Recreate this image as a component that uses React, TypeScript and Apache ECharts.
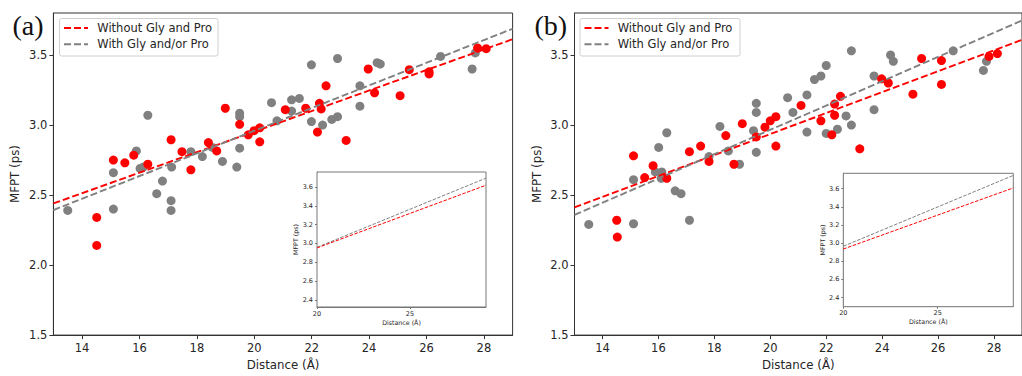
import React, { useEffect, useRef } from "react";
import * as echarts from "echarts";

// ---- data (x = Distance Å, y = MFPT ps) ----
const redA: number[][] = [
  [14.51, 2.34], [14.51, 2.14], [15.09, 2.75], [15.49, 2.73], [15.8, 2.785], [16.29, 2.72],
  [17.1, 2.895], [17.48, 2.81], [17.79, 2.68], [18.4, 2.875], [18.69, 2.815], [18.99, 3.12],
  [19.49, 3.005], [19.79, 2.93], [19.99, 2.96], [20.19, 2.98], [20.19, 2.88], [21.08, 3.11],
  [21.79, 3.12], [22.2, 2.95], [22.27, 3.155], [22.33, 3.115], [22.5, 3.28], [23.2, 2.89],
  [23.97, 3.4], [24.19, 3.23], [25.08, 3.21], [25.4, 3.395], [26.09, 3.38], [26.09, 3.365],
  [27.78, 3.55], [28.08, 3.545],
];
const grayA: number[][] = [
  [13.5, 2.39], [15.09, 2.66], [15.09, 2.4], [15.89, 2.815], [16.02, 2.69], [16.13, 2.7],
  [16.29, 3.07], [16.6, 2.51], [16.8, 2.6], [17.12, 2.7], [17.1, 2.46], [17.1, 2.39],
  [17.79, 2.81], [18.19, 2.775], [18.54, 2.84], [18.89, 2.74], [19.39, 2.7], [19.49, 3.085],
  [19.49, 3.06], [19.49, 2.835], [20.6, 3.16], [20.79, 3.03], [21.3, 3.18], [21.3, 3.1],
  [21.57, 3.19], [21.99, 3.43], [21.99, 3.025], [22.38, 3.0], [22.7, 3.04], [22.9, 3.06],
  [22.9, 3.475], [23.68, 3.28], [23.68, 3.135], [24.28, 3.445], [24.39, 3.435], [26.49, 3.49],
  [27.59, 3.4], [27.7, 3.515],
];
const redB: number[][] = [
  [14.51, 2.32], [14.53, 2.2], [15.11, 2.78], [15.51, 2.625], [15.81, 2.71], [16.3, 2.62],
  [17.11, 2.81], [17.51, 2.85], [17.81, 2.74], [18.41, 2.925], [18.7, 2.72], [19.0, 3.01],
  [19.5, 2.915], [19.81, 2.985], [20.0, 3.03], [20.2, 3.06], [20.2, 2.85], [21.1, 3.14],
  [21.81, 3.03], [22.2, 2.93], [22.3, 3.15], [22.3, 3.07], [22.51, 3.205], [23.2, 2.83],
  [23.98, 3.33], [24.22, 3.3], [25.1, 3.22], [25.41, 3.475], [26.12, 3.46], [26.12, 3.29],
  [27.82, 3.49], [28.12, 3.51],
];
const grayB: number[][] = [
  [13.51, 2.29], [15.11, 2.295], [15.11, 2.61], [16.01, 2.84], [15.89, 2.665], [16.12, 2.665],
  [16.1, 2.62], [16.3, 2.945], [16.6, 2.53], [16.81, 2.51], [17.11, 2.32], [17.81, 2.775],
  [18.2, 2.99], [18.5, 2.815], [18.9, 2.72], [19.4, 2.96], [19.5, 3.155], [19.5, 3.09],
  [19.5, 2.805], [20.62, 3.195], [20.81, 3.09], [21.31, 3.215], [21.31, 2.95], [21.58, 3.325],
  [21.81, 3.35], [22.0, 3.425], [22.0, 2.94], [22.4, 2.97], [22.71, 3.065], [22.9, 3.0],
  [22.9, 3.53], [23.71, 3.35], [23.71, 3.11], [24.3, 3.5], [24.4, 3.455], [26.54, 3.53],
  [27.62, 3.39], [27.73, 3.455],
];
// linear fits: [value at x = 13, slope]
const fitRedA = [2.44, 0.0733];
const fitGrayA = [2.393, 0.0809];
const fitRedB = [2.412, 0.0748];
const fitGrayB = [2.358, 0.0868];

const mainXTicks = [14, 16, 18, 20, 22, 24, 26, 28];
const mainYTicks = [1.5, 2.0, 2.5, 3.0, 3.5];
const insetXTicks = [20, 25];
const insetYTicks = [2.4, 2.6, 2.8, 3.0, 3.2, 3.4, 3.6];
const legendLabels = ["Without Gly and Pro", "With Gly and/or Pro"];
const panelLabels = ["(a)", "(b)"];

const RED = "#ff0000";
const GRAY = "#808080";
const FONT = "DejaVu Sans";
const TXT = "#262626";

function fitLine(fit: number[], x0: number, x1: number) {
  return [x0, x1].map((x) => [x, fit[0] + fit[1] * (x - 13)]);
}

function xAxis(gi: number, min: number, max: number, ticks: number[], inset: boolean) {
  return {
    type: "value", gridIndex: gi, min, max,
    name: "Distance (Å)", nameLocation: "middle", nameGap: inset ? 12 : 23,
    nameTextStyle: { fontFamily: FONT, fontSize: inset ? 6.3 : 11.8, color: TXT },
    axisLine: { show: true, onZero: false, lineStyle: { color: inset ? "#777" : "#333", width: 1 } },
    axisTick: { show: true, length: inset ? 2 : 4, customValues: ticks, lineStyle: { color: inset ? "#777" : "#333" } },
    axisLabel: { customValues: ticks, margin: inset ? 3 : 7, fontFamily: FONT, fontSize: inset ? 6.5 : 11.5, color: TXT },
    splitLine: { show: false },
  };
}
function yAxis(gi: number, min: number, max: number, ticks: number[], inset: boolean) {
  return {
    type: "value", gridIndex: gi, min, max,
    name: "MFPT (ps)", nameLocation: "middle", nameGap: inset ? 16 : 32,
    nameTextStyle: { fontFamily: FONT, fontSize: inset ? 6.3 : 11.8, color: TXT },
    axisLine: { show: true, onZero: false, lineStyle: { color: inset ? "#777" : "#333", width: 1 } },
    axisTick: { show: true, length: inset ? 2 : 4, customValues: ticks, lineStyle: { color: inset ? "#777" : "#333" } },
    axisLabel: {
      customValues: ticks, margin: inset ? 4 : 6, fontFamily: FONT, fontSize: inset ? 6.5 : 11.5, color: TXT,
      formatter: (v: number) => v.toFixed(1),
    },
    splitLine: { show: false },
  };
}

export default function App() {
  const ref = useRef<HTMLDivElement>(null);
  useEffect(() => {
    document.body.style.margin = "0";
    if (!ref.current) return;
    const chart = echarts.init(ref.current, null, { renderer: "svg" });

    const grids = [
      { left: 53.4, top: 13, width: 459.2, height: 325 },
      { left: 317, top: 172, width: 169, height: 135 },
      { left: 574.5, top: 13, width: 458.4, height: 325 },
      { left: 843.3, top: 173.3, width: 170, height: 133.4 },
    ].map((g, i) => ({
      ...g, show: true, backgroundColor: "#fff",
      borderColor: i % 2 ? "#777" : "#333", borderWidth: 1, z: i % 2 ? 3 : 0,
    }));

    const ranges = [
      { x: [13, 29], y: [1.5, 3.8], inset: false },
      { x: [20, 29.09], y: [2.325, 3.76], inset: true },
      { x: [13, 29], y: [1.5, 3.8], inset: false },
      { x: [20, 29.0], y: [2.3, 3.77], inset: true },
    ];
    const xAxes = ranges.map((r, i) => xAxis(i, r.x[0], r.x[1], r.inset ? insetXTicks : mainXTicks, r.inset));
    const yAxes = ranges.map((r, i) => yAxis(i, r.y[0], r.y[1], r.inset ? insetYTicks : mainYTicks, r.inset));

    const scatter = (data: number[][], color: string, gi: number) => ({
      type: "scatter", xAxisIndex: gi, yAxisIndex: gi, data, symbol: "circle", symbolSize: 9,
      itemStyle: { color, opacity: 1 }, z: 2,
    });
    const line = (fit: number[], color: string, gi: number, inset: boolean) => ({
      type: "line", xAxisIndex: gi, yAxisIndex: gi, data: fitLine(fit, ranges[gi].x[0], ranges[gi].x[1]),
      symbol: "none", clip: true, z: inset ? 6 : 4,
      lineStyle: { color, width: inset ? 1 : 1.9, type: inset ? [3.5, 1.5] : [7, 3] },
    });

    const series = [
      scatter(grayA, GRAY, 0), scatter(redA, RED, 0),
      line(fitRedA, RED, 0, false), line(fitGrayA, GRAY, 0, false),
      line(fitGrayA, GRAY, 1, true), line(fitRedA, RED, 1, true),
      scatter(grayB, GRAY, 2), scatter(redB, RED, 2),
      line(fitRedB, RED, 2, false), line(fitGrayB, GRAY, 2, false),
      line(fitGrayB, GRAY, 3, true), line(fitRedB, RED, 3, true),
    ];

    const legend = (x0: number, w: number, textX: number) => [
      { type: "rect", shape: { x: x0, y: 18.5, width: w, height: 37.5, r: 2 }, style: { fill: "rgba(255,255,255,0.85)", stroke: "#d0d0d0", lineWidth: 1 }, z: 20 },
      { type: "line", shape: { x1: x0 + 4.5, y1: 28, x2: x0 + 28.5, y2: 28 }, style: { stroke: RED, lineWidth: 1.9, lineDash: [7, 3] }, z: 21 },
      { type: "line", shape: { x1: x0 + 4.5, y1: 44.3, x2: x0 + 28.5, y2: 44.3 }, style: { stroke: GRAY, lineWidth: 1.9, lineDash: [7, 3] }, z: 21 },
      { type: "text", x: textX, y: 28, style: { text: legendLabels[0], fontFamily: FONT, fontSize: 11.5, fill: TXT, verticalAlign: "middle" }, z: 21 },
      { type: "text", x: textX, y: 44.3, style: { text: legendLabels[1], fontFamily: FONT, fontSize: 11.5, fill: TXT, verticalAlign: "middle" }, z: 21 },
    ];

    chart.setOption({
      animation: false,
      backgroundColor: "#fff",
      grid: grids,
      xAxis: xAxes,
      yAxis: yAxes,
      series,
      graphic: [
        ...legend(59.5, 158.5, 97.3),
        ...legend(580, 160, 617.7),
        { type: "text", x: 12.5, y: 25, style: { text: panelLabels[0], fontFamily: "Liberation Serif", fontSize: 28, fill: "#111", verticalAlign: "middle" }, z: 21 },
        { type: "text", x: 534.5, y: 25, style: { text: panelLabels[1], fontFamily: "Liberation Serif", fontSize: 28, fill: "#111", verticalAlign: "middle" }, z: 21 },
      ],
    });
    return () => chart.dispose();
  }, []);
  return <div ref={ref} style={{ width: 1022, height: 376 }} />;
}
